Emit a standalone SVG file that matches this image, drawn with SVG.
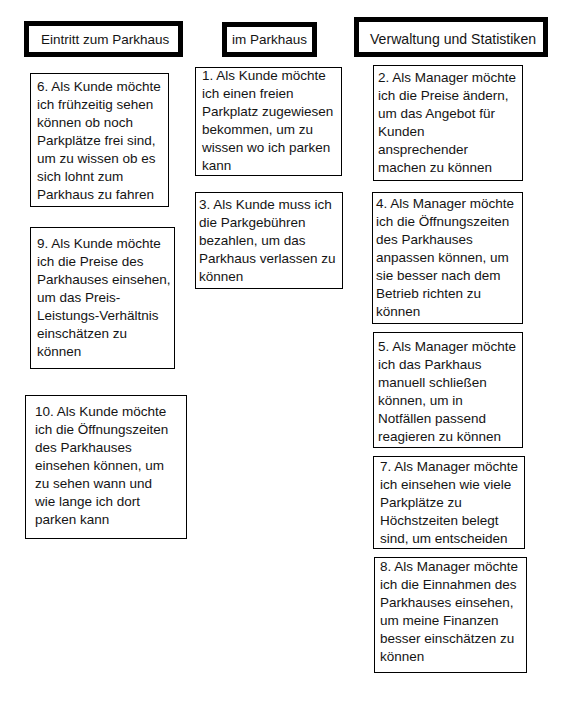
<svg xmlns="http://www.w3.org/2000/svg" width="576" height="712" viewBox="0 0 576 712">
<style>
text{font-family:"Liberation Sans",Arial,sans-serif;font-size:13.5px;fill:#141414}
.hd{fill:#fff;stroke:#000;stroke-width:5}
.bx{fill:#fff;stroke:#000;stroke-width:1}
</style>
<rect width="576" height="712" fill="#fff"/>
<g id="connectors"/>
<g id="h1"><rect class="hd" x="26.5" y="23.5" width="154" height="31"/><text x="41" y="44">Eintritt zum Parkhaus</text></g>
<g id="h2"><rect class="hd" x="224.5" y="24.5" width="90" height="30"/><text x="232" y="44">im Parkhaus</text></g>
<g id="h3"><rect class="hd" x="356.5" y="19.5" width="189" height="35"/><text x="370" y="44" style="font-size:14.1px">Verwaltung und Statistiken</text></g>

<g id="s6"><rect class="bx" x="30.5" y="73.5" width="138" height="133"/>
<text x="37" y="91">6. Als Kunde möchte</text><text x="37" y="109">ich frühzeitig sehen</text><text x="37" y="127">können ob noch</text><text x="37" y="145">Parkplätze frei sind,</text><text x="37" y="163">um zu wissen ob es</text><text x="37" y="181">sich lohnt zum</text><text x="37" y="199">Parkhaus zu fahren</text></g>

<g id="s9"><rect class="bx" x="30.5" y="227.5" width="144" height="141"/>
<text x="37" y="248">9. Als Kunde möchte</text><text x="37" y="266">ich die Preise des</text><text x="37" y="284">Parkhauses einsehen,</text><text x="37" y="302">um das Preis-</text><text x="37" y="320">Leistungs-Verhältnis</text><text x="37" y="338">einschätzen zu</text><text x="37" y="356">können</text></g>

<g id="s10"><rect class="bx" x="25.5" y="395.5" width="161" height="143"/>
<text x="35" y="416">10. Als Kunde möchte</text><text x="35" y="434">ich die Öffnungszeiten</text><text x="35" y="452">des Parkhauses</text><text x="35" y="470">einsehen können, um</text><text x="35" y="488">zu sehen wann und</text><text x="35" y="506">wie lange ich dort</text><text x="35" y="524">parken kann</text></g>

<g id="s1"><rect class="bx" x="195.5" y="67.5" width="146" height="108"/>
<text x="202" y="80">1. Als Kunde möchte</text><text x="202" y="98">ich einen freien</text><text x="202" y="116">Parkplatz zugewiesen</text><text x="202" y="134">bekommen, um zu</text><text x="202" y="152">wissen wo ich parken</text><text x="202" y="170">kann</text></g>

<g id="s3"><rect class="bx" x="195.5" y="192.5" width="147" height="96"/>
<text x="199" y="209">3. Als Kunde muss ich</text><text x="199" y="227">die Parkgebühren</text><text x="199" y="245">bezahlen, um das</text><text x="199" y="263">Parkhaus verlassen zu</text><text x="199" y="281">können</text></g>

<g id="s2"><rect class="bx" x="373.5" y="65.5" width="149" height="115"/>
<text x="378" y="82">2. Als Manager möchte</text><text x="378" y="100">ich die Preise ändern,</text><text x="378" y="118">um das Angebot für</text><text x="378" y="136">Kunden</text><text x="378" y="154">ansprechender</text><text x="378" y="172">machen zu können</text></g>

<g id="s4"><rect class="bx" x="372.5" y="192.5" width="150" height="131"/>
<text x="376" y="208">4. Als Manager möchte</text><text x="376" y="226">ich die Öffnungszeiten</text><text x="376" y="244">des Parkhauses</text><text x="376" y="262">anpassen können, um</text><text x="376" y="280">sie besser nach dem</text><text x="376" y="298">Betrieb richten zu</text><text x="376" y="316">können</text></g>

<g id="s5"><rect class="bx" x="373.5" y="332.5" width="149" height="115"/>
<text x="378" y="351">5. Als Manager möchte</text><text x="378" y="369">ich das Parkhaus</text><text x="378" y="387">manuell schließen</text><text x="378" y="405">können, um in</text><text x="378" y="423">Notfällen passend</text><text x="378" y="441">reagieren zu können</text></g>

<g id="s7"><rect class="bx" x="373.5" y="456.5" width="151" height="92"/>
<text x="380" y="471">7. Als Manager möchte</text><text x="380" y="489">ich einsehen wie viele</text><text x="380" y="507">Parkplätze zu</text><text x="380" y="525">Höchstzeiten belegt</text><text x="380" y="543">sind, um entscheiden</text></g>

<g id="s8"><rect class="bx" x="374.5" y="557.5" width="152" height="115"/>
<text x="380" y="571">8. Als Manager möchte</text><text x="380" y="589">ich die Einnahmen des</text><text x="380" y="607">Parkhauses einsehen,</text><text x="380" y="625">um meine Finanzen</text><text x="380" y="643">besser einschätzen zu</text><text x="380" y="661">können</text></g>
</svg>
